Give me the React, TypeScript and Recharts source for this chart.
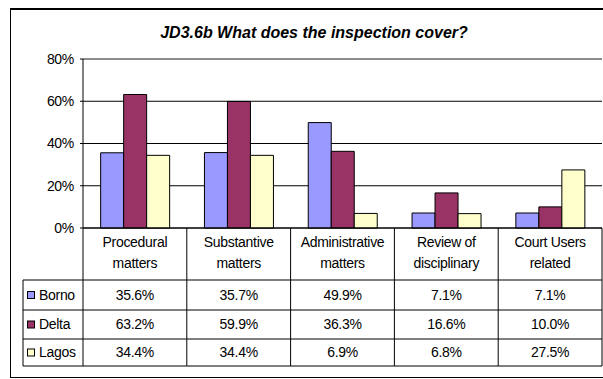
import { BarChart, Bar, XAxis, YAxis, CartesianGrid, ReferenceLine } from 'recharts';

const CATEGORIES = [
  'Procedural matters',
  'Substantive matters',
  'Administrative matters',
  'Review of disciplinary',
  'Court Users related',
];
const CATEGORY_LINES = [
  ['Procedural', 'matters'],
  ['Substantive', 'matters'],
  ['Administrative', 'matters'],
  ['Review of', 'disciplinary'],
  ['Court Users', 'related'],
];
const BORNO = [35.6, 35.7, 49.9, 7.1, 7.1];
const DELTA = [63.2, 59.9, 36.3, 16.6, 10.0];
const LAGOS = [34.4, 34.4, 6.9, 6.8, 27.5];
const Y_TICKS = [0, 20, 40, 60, 80];

const SERIES = [
  { key: 'borno', name: 'Borno', color: '#9999FF', values: BORNO },
  { key: 'delta', name: 'Delta', color: '#993366', values: DELTA },
  { key: 'lagos', name: 'Lagos', color: '#FFFFCC', values: LAGOS },
];

const data = CATEGORIES.map((name, i) => {
  const row: { [k: string]: string | number } = { name };
  SERIES.forEach(s => { row[s.key] = s.values[i]; });
  return row;
});

const FONT = '"Liberation Sans", Arial, sans-serif';
const W = 603;
const H = 379;
// table rows below the axis (offsets from the axis line)
const HEADER_H = 52;
const ROW_BOTTOMS = [82, 111, 138];
const ROW_MIDS = [67, 96.5, 124.5];
const LEGEND_LEFT = 23;

const TableTick = (props: any) => {
  const { x, y, payload, index } = props;
  const half = payload && payload.offset ? payload.offset : 52;
  const left = x - half;
  const right = x + half;
  const lines = CATEGORY_LINES[index] || [String(payload.value)];
  const bottom = y + ROW_BOTTOMS[ROW_BOTTOMS.length - 1];
  return (
    <g>
      <line x1={right} y1={y} x2={right} y2={bottom} stroke="#000" />
      {index === 0 && (
        <g>
          <line x1={left} y1={y} x2={left} y2={bottom} stroke="#000" />
          <line x1={LEGEND_LEFT} y1={y + HEADER_H} x2={LEGEND_LEFT} y2={bottom} stroke="#000" />
          <line x1={LEGEND_LEFT} y1={y + HEADER_H} x2={left} y2={y + HEADER_H} stroke="#000" />
          {SERIES.map((s, r) => (
            <g key={s.key}>
              <rect x={LEGEND_LEFT + 4.5} y={y + ROW_MIDS[r] - 3.5} width={7} height={7} fill={s.color} stroke="#000" />
              <text x={LEGEND_LEFT + 16} y={y + ROW_MIDS[r]} dy="0.35em" fontSize={14} letterSpacing={-0.3} fill="#000">
                {s.name}
              </text>
              <line x1={LEGEND_LEFT} y1={y + ROW_BOTTOMS[r]} x2={left} y2={y + ROW_BOTTOMS[r]} stroke="#000" />
            </g>
          ))}
        </g>
      )}
      {lines.map((t, i) => (
        <text key={i} x={x} y={y + 14 + i * 21} dy="0.35em" textAnchor="middle" fontSize={14} letterSpacing={-0.3} fill="#000">
          {t}
        </text>
      ))}
      <line x1={left} y1={y + HEADER_H} x2={right} y2={y + HEADER_H} stroke="#000" />
      {SERIES.map((s, r) => (
        <g key={s.key}>
          <text x={x} y={y + ROW_MIDS[r]} dy="0.35em" textAnchor="middle" fontSize={14} letterSpacing={-0.3} fill="#000">
            {`${s.values[index].toFixed(1)}%`}
          </text>
          <line x1={left} y1={y + ROW_BOTTOMS[r]} x2={right} y2={y + ROW_BOTTOMS[r]} stroke="#000" />
        </g>
      ))}
    </g>
  );
};

export default function App() {
  return (
    <div style={{ position: 'absolute', left: 0, top: 0, width: W, height: H, overflow: 'hidden', background: '#fff', fontFamily: FONT }}>
      <div
        style={{
          position: 'absolute',
          left: 10,
          top: 8,
          width: 640,
          height: 367,
          borderTop: '2px solid #000',
          borderLeft: '1px solid #000',
          borderBottom: '1px solid #000',
        }}
      />
      <div
        style={{
          position: 'absolute',
          left: 0,
          width: 628,
          top: 23,
          textAlign: 'center',
          fontSize: 16,
          fontWeight: 'bold',
          fontStyle: 'italic',
          letterSpacing: 0,
          lineHeight: '20px',
          color: '#000',
        }}
      >
        JD3.6b What does the inspection cover?
      </div>
      <div style={{ position: 'absolute', left: 0, top: 0 }}>
        <BarChart
          width={W}
          height={H}
          data={data}
          margin={{ top: 59, right: 1, bottom: 13, left: 0 }}
          barCategoryGap="17%"
          barGap={0}
        >
          <CartesianGrid horizontal vertical={false} stroke="#000" />
          <ReferenceLine y={80} stroke="#999" />
          <XAxis
            dataKey="name"
            interval={0}
            height={138}
            tickSize={0}
            tickMargin={0}
            tickLine={false}
            axisLine={{ stroke: '#000' }}
            tick={<TableTick />}
          />
          <YAxis
            domain={[0, 80]}
            ticks={Y_TICKS}
            width={83}
            tickSize={3}
            tickMargin={6}
            tickLine={{ stroke: '#000' }}
            axisLine={{ stroke: '#000' }}
            tickFormatter={(v: number) => `${v}%`}
            tick={{ fill: '#000', fontSize: 14, letterSpacing: -0.3, fontFamily: FONT }}
          />
          {SERIES.map(s => (
            <Bar
              key={s.key}
              dataKey={s.key}
              name={s.name}
              fill={s.color}
              stroke="#000"
              strokeWidth={1}
              isAnimationActive={false}
            />
          ))}
        </BarChart>
      </div>
    </div>
  );
}
